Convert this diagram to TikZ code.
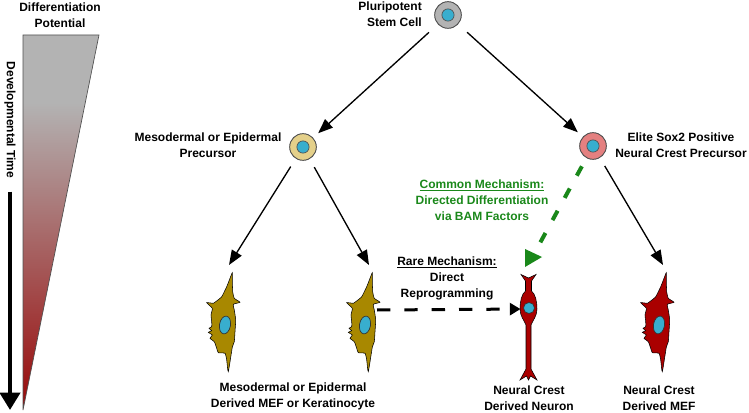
\documentclass[tikz,border=0pt]{standalone}
\usepackage{fontspec}
\setmainfont{Liberation Sans}
\usetikzlibrary{arrows.meta,calc}
\definecolor{stemgray}{RGB}{179,179,179}
\definecolor{nucblue}{RGB}{56,174,206}
\definecolor{mesotan}{RGB}{228,208,138}
\definecolor{elitepink}{RGB}{228,128,128}
\definecolor{mefolive}{RGB}{168,136,0}
\definecolor{crestred}{RGB}{170,0,0}
\definecolor{bamgreen}{RGB}{26,136,26}
\definecolor{tipred}{RGB}{152,8,8}
\definecolor{outlinegray}{RGB}{80,80,80}
\pgfdeclareverticalshading{potential}{100bp}{color(0bp)=(tipred); color(25bp)=(tipred); color(66bp)=(stemgray); color(100bp)=(stemgray)}
\tikzset{cellbody/.style={circle,draw=outlinegray,line width=0.7pt,minimum size=20pt,inner sep=0pt,
    path picture={\draw[fill=nucblue,draw=outlinegray,line width=0.5pt] (path picture bounding box.center) circle (4.6pt);}},
    labeltext/.style={font=\bfseries\fontsize{9}{12}\selectfont,align=center,inner sep=0.75pt},
    cellarrow/.style={line width=1pt,-{Triangle[length=11pt,width=8.5pt]},shorten <=7pt},
    rarearrow/.style={line width=2.25pt,dash pattern=on 10pt off 10.5pt,-{Triangle[length=8pt,width=9pt]},shorten >=6pt},
    bamdash/.style={bamgreen,line width=3pt,dash pattern=on 8pt off 11pt,shorten <=7pt},
    timearrow/.style={line width=3pt,-{Triangle[length=13pt,width=15pt]},shorten <=9pt},
    mef/.pic={
    \draw[fill=#1,draw=black,line width=0.4pt] plot[smooth cycle,tension=0.3] coordinates {(9.3,-54.3) (9.3,-47) (9.7,-35.3) (11.3,-28.7) (17,-24.7) (10.3,-22.7) (11.3,-17) (12.7,-7) (12,4.7) (11.3,14.7) (9.3,20.3) (5.3,44.7) (3.7,33) (2,26.3) (-4.7,25.7) (-6.3,21.3) (-8.7,14.7) (-13,11.3) (-10.7,8) (-14.7,5.3) (-11.3,3.7) (-14,1.3) (-11.3,-0.3) (-11.3,-5.3) (-12,-12) (-10.7,-18.7) (-16.3,-24.3) (-9.7,-23.7) (-7.3,-25.3) (-1.3,-30.3) (3.7,-40.3) (7,-48.7)};
    \draw[fill=nucblue,draw=black!80,line width=0.5pt,shift={(2,-2)},rotate=10] (0,0) ellipse (5.5 and 9);
    \coordinate (-top) at (6,-62);
    \coordinate (-east) at (14,-17);
    }}
\begin{document}
\begin{tikzpicture}[x=0.75pt,y=0.75pt,yscale=-1,xscale=1]
\useasboundingbox (0,0) rectangle (749,413);

%Shape: Triangle
\shadedraw[shading=potential,draw=outlinegray,line width=0.5pt] (23,35) -- (99,35) -- (23,410) -- cycle ;
% Text Node
\draw (60,15) node [labeltext] (diffpot) {Differentiation\\Potential};
% Text Node
\draw (10,120) node [labeltext,rotate=-90] (devtime) {Developmental Time};
\coordinate (timeend) at (10,410);
\draw[timearrow] (devtime.east) -- (timeend) ;

%Shape: Circle
\draw (448,15) node [cellbody,fill=stemgray] (stem) {};
\draw (303,147) node [cellbody,fill=mesotan] (meso) {};
\draw (593,146) node [cellbody,fill=elitepink] (elite) {};

%Shape: Cells
\pic[transform shape] (mefA) at (223,327) {mef=mefolive};
\pic[transform shape] (mefB) at (363,327) {mef=mefolive};
\pic[transform shape] (mefC) at (657,327) {mef=crestred};

%Shape: Neuron
\begin{scope}[shift={(528.5,309)}]
\draw[fill=crestred,draw=black,line width=0.4pt] (0,-31) -- (7.5,-34.5) -- (3,-28) -- (3,-18) .. controls (7,-15) and (8.5,-7) .. (8.5,0) .. controls (8.5,7) and (4.5,11) .. (2.5,16) -- (2.5,60) -- (8.5,71) -- (2,67) -- (0,71) -- (-2,67) -- (-8.5,71) -- (-2.5,60) -- (-2.5,16) .. controls (-4.5,11) and (-8.5,7) .. (-8.5,0) .. controls (-8.5,-7) and (-7,-15) .. (-3,-18) -- (-3,-28) -- (-7.5,-34.5) -- cycle ;
\draw[fill=nucblue,draw=black!80,line width=0.5pt] (0.5,-1) circle (5.5) ;
\end{scope}
\coordinate (soma) at (528.5,309);

%Straight Lines
\draw[cellarrow,shorten <=9pt,shorten >=5pt] (stem) -- (meso) ;
\draw[cellarrow,shorten <=9pt,shorten >=5pt] (stem) -- (elite) ;
\draw[cellarrow] (meso) -- (mefA-top) ;
\draw[cellarrow] (meso) -- (mefB-top) ;
\draw[cellarrow] (elite) -- (mefC-top) ;
\draw[rarearrow] (mefB-east) -- (soma) ;
\coordinate (bamtip) at (540,243);
\draw[bamdash] (elite) -- (bamtip) ;
\fill[bamgreen] (bamtip) ++(-15,6) -- ++(17,8) -- ++(-17,10) -- cycle ;

% Text Node
\draw (423,14) node [labeltext,anchor=east,align=right] (stemtext) {Pluripotent\\Stem Cell};
% Text Node
\draw (208,145) node [labeltext] (mesotext) {Mesodermal or Epidermal\\Precursor};
% Text Node
\draw (681,145) node [labeltext] (elitetext) {Elite Sox2 Positive\\Neural Crest Precursor};
% Text Node
\draw (482,200) node [labeltext,text=bamgreen] (commontext) {\underline{Common Mechanism:}\\Directed Differentiation\\via BAM Factors};
% Text Node
\draw (447,278) node [labeltext] (raretext) {\underline{Rare Mechanism:}\\Direct\\Reprogramming};
% Text Node
\draw (293,396) node [labeltext] (mefAtext) {Mesodermal or Epidermal\\Derived MEF or Keratinocyte};
% Text Node
\draw (529,398) node [labeltext] (neurontext) {Neural Crest\\Derived Neuron};
% Text Node
\draw (659,398) node [labeltext] (mefCtext) {Neural Crest\\Derived MEF};

\end{tikzpicture}
\end{document}
